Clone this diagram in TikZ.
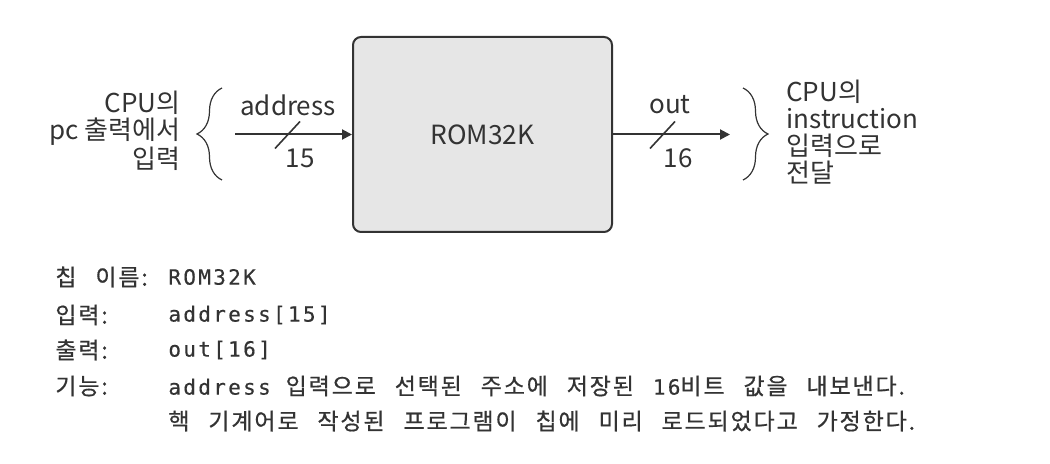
\documentclass[tikz,border=0pt]{standalone}
\usepackage{fontspec}
\setmainfont{Noto Sans CJK KR}
\newfontfamily\codefont[LetterSpace=11,FakeBold=0.4]{DejaVu Sans Mono}
\newfontfamily\krcode[LetterSpace=8,WordSpace=2.7,FakeBold=0.6]{Noto Sans CJK KR}
\usetikzlibrary{arrows.meta,positioning,calc,decorations.pathreplacing}
\definecolor{romgrey}{HTML}{E6E6E6}
\definecolor{inkgrey}{HTML}{333333}
\newcommand{\kr}[1]{{\krcode\fontsize{11.5}{13}\selectfont #1}}

\begin{document}
\begin{tikzpicture}[
  x=0.5pt, y=-0.5pt,
  chip/.style={
    draw=inkgrey, line width=1pt, rounded corners=4pt, fill=romgrey,
    minimum width=129.5pt, minimum height=97.5pt, inner sep=0pt,
    font=\fontsize{13.2}{14}\selectfont, text=inkgrey},
  pin/.style={font=\fontsize{13}{14}\selectfont, text=inkgrey, inner sep=0pt},
  side/.style={font=\fontsize{13}{13.4}\selectfont, text=inkgrey, inner sep=0pt},
  wire/.style={-{Triangle[length=5pt,width=5pt]}, inkgrey, line width=1pt},
  bus/.style={inkgrey, line width=0.8pt},
  curly/.style={decorate, decoration={brace, amplitude=12.5pt}, inkgrey, line width=0.6pt},
  spec/.style={anchor=west, inner sep=0pt, text=inkgrey,
    font=\fontsize{10.5}{12}\selectfont\codefont},
]
  \useasboundingbox (0,0) rectangle (1050,464);

  %% ---- Chip ----
  \node[chip] (rom) at (482.5,134.5) {ROM32K};

  %% ---- Input ----
  \coordinate (addrin) at (235,134.5);
  \coordinate (addrbus) at (287,134.5);
  \draw[wire] (addrin) -- (rom.west);
  \draw[bus] ([shift={(-12,14)}]addrbus) -- ([shift={(13,-13)}]addrbus);
  \node[pin] (addrlbl) at (288,105) {address};
  \node[pin] (addrw) at (300,158) {15};

  %% ---- Output ----
  \coordinate (outend) at (730,134.5);
  \coordinate (outbus) at (662,134.5);
  \draw[wire] (rom.east) -- (outend);
  \draw[bus] ([shift={(-12,14)}]outbus) -- ([shift={(13,-13)}]outbus);
  \node[pin] (outlbl) at (670,105) {out};
  \node[pin] (outw) at (678,158) {16};

  %% ---- Braces and notes ----
  \draw[curly] (222,180) -- (222,88);
  \draw[curly] (743,88) -- (743,180);
  \node[side, anchor=east, align=right] (srcnote) at (181,131) {CPU의\\pc 출력에서\\입력};
  \node[side, anchor=west, align=left] (dstnote) at (786,132) {CPU의\\instruction\\입력으로\\전달};

  %% ---- Spec ----
  \node[spec] (namekey) at (55,277) {\kr{칩 이름:}};
  \node[spec] (nameval) at (168,277) {ROM32K};
  \node[spec] (inkey)   at (55,315) {\kr{입력:}};
  \node[spec] (inval)   at (168,315) {address[15]};
  \node[spec] (outkey)  at (55,350) {\kr{출력:}};
  \node[spec] (outval)  at (168,350) {out[16]};
  \node[spec] (fnkey)   at (55,386) {\kr{기능:}};
  \node[spec] (fnval)   at (168,386) {address \kr{입력으로 선택된 주소에 저장된 }16\kr{비트 값을 내보낸다.}};
  \node[spec] (fnmore)  at (168,421) {\kr{핵 기계어로 작성된 프로그램이 칩에 미리 로드되었다고 가정한다.}};

\end{tikzpicture}
\end{document}
